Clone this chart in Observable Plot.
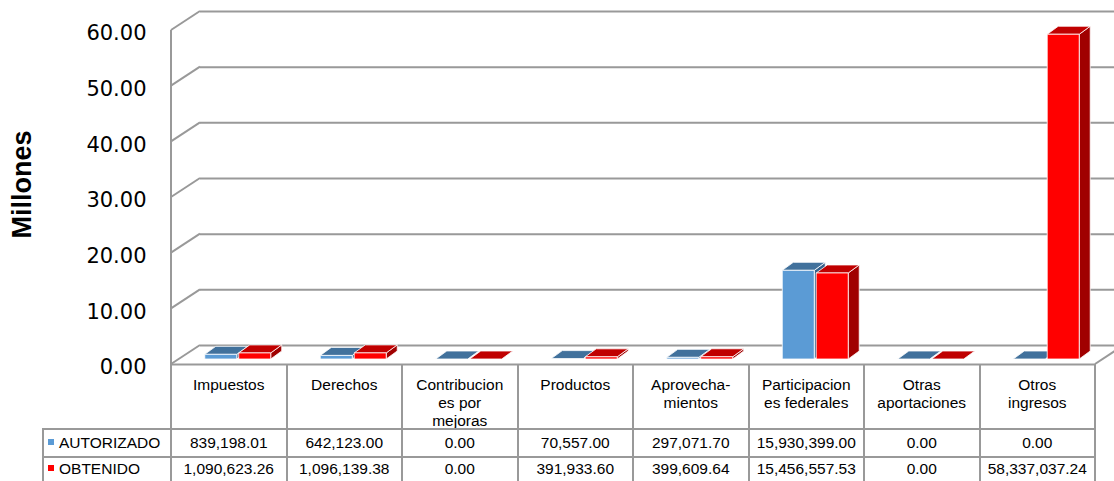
<!DOCTYPE html>
<html><head><meta charset="utf-8">
<script src="https://cdn.jsdelivr.net/npm/d3@7"></script>
<script src="https://cdn.jsdelivr.net/npm/@observablehq/plot@0.6"></script>
<style>
body{margin:0;background:#fff;}
#wrap{position:relative;width:1114px;height:481px;overflow:hidden;background:#fff;}
#wrap svg{position:absolute;left:0;top:0;}
.cell{position:absolute;font-family:"Liberation Sans",Arial,sans-serif;font-size:15.5px;color:#000;text-align:center;line-height:18px;white-space:nowrap;}
.ln{position:absolute;background:#999;}
</style></head><body><div id="wrap"></div>
<script>
// ---- data ----
const categories = ["Impuestos","Derechos","Contribuciones por mejoras","Productos","Aprovechamientos","Participaciones federales","Otras aportaciones","Otros ingresos"];
const headerLabels = [["Impuestos"],["Derechos"],["Contribucion","es por","mejoras"],["Productos"],["Aprovecha-","mientos"],["Participacion","es federales"],["Otras","aportaciones"],["Otros","ingresos"]];
const seriesNames = ["AUTORIZADO","OBTENIDO"];
const autorizado = [839198.01, 642123.00, 0.00, 70557.00, 297071.70, 15930399.00, 0.00, 0.00];
const obtenido = [1090623.26, 1096139.38, 0.00, 391933.60, 399609.64, 15456557.53, 0.00, 58337037.24];
const yTicks = [0, 10, 20, 30, 40, 50, 60];
const yTitle = "Millones";

// ---- styles ----
const LINE = "#999999";
const frontColors = ["#5B9BD5", "#FF0000"];
const topColors = {AUTORIZADO: "#41719C", OBTENIDO: "#C00000"};
const sideColors = {AUTORIZADO: "#35618C", OBTENIDO: "#A00000"};
const WALL = [29, -19];    // depth of the 3D box
const BAR_OFF = [9, -5];   // bars sit inside the box
const BAR_DEPTH = [11, -8];

const rows = categories.flatMap((c, i) => [
  {cat: c, series: seriesNames[0], value: autorizado[i] / 1e6},
  {cat: c, series: seriesNames[1], value: obtenido[i] / 1e6}
]);

function walls(index, scales, values, dims) {
  const x0 = dims.marginLeft, x1 = dims.width - dims.marginRight;
  const y = scales.y;
  const g = d3.create("svg:g").attr("stroke", LINE).attr("stroke-width", 2).attr("fill", "none");
  g.append("line").attr("x1", x0).attr("x2", x0).attr("y1", y(yTicks[yTicks.length - 1])).attr("y2", y(0));
  for (const t of yTicks) {
    g.append("line").attr("x1", x0).attr("y1", y(t)).attr("x2", x0 + WALL[0]).attr("y2", y(t) + WALL[1]);
  }
  g.append("line").attr("x1", x1).attr("y1", y(0)).attr("x2", x1 + WALL[0]).attr("y2", y(0) + WALL[1]);
  return g.node();
}

function bars3d(index, scales, values, dims) {
  const bw = typeof scales.x.bandwidth === "function" ? scales.x.bandwidth()
    : (dims.width - dims.marginLeft - dims.marginRight) / categories.length;
  const barW = bw * 0.277, gap = bw * 0.017;
  const g = d3.create("svg:g").attr("stroke", "#fff").attr("stroke-width", 0.8).attr("stroke-linejoin", "round");
  for (const i of index) {
    const d = rows[i];
    const s = seriesNames.indexOf(d.series);
    const cx = scales.x(d.cat) + bw / 2 + BAR_OFF[0];
    const xl = s === 0 ? cx - gap / 2 - barW : cx + gap / 2;
    const xr = xl + barW;
    const y0 = scales.y(0) + BAR_OFF[1];
    const yt = scales.y(d.value) + BAR_OFF[1];
    const [dx, dy] = BAR_DEPTH;
    g.append("path").attr("fill", sideColors[d.series])
      .attr("d", `M${xr},${yt}L${xr + dx},${yt + dy}L${xr + dx},${y0 + dy}L${xr},${y0}Z`);
    g.append("path").attr("fill", topColors[d.series])
      .attr("d", `M${xl},${yt}L${xl + dx},${yt + dy}L${xr + dx},${yt + dy}L${xr},${yt}Z`);
    if (y0 - yt > 0.5) {
      g.append("rect").attr("fill", values.fill ? values.fill[i] : frontColors[s])
        .attr("x", xl).attr("y", yt).attr("width", barW).attr("height", y0 - yt);
    }
  }
  return g.node();
}

const plot = Plot.plot({
  width: 1114,
  height: 481,
  marginLeft: 171,
  marginRight: 19,
  marginTop: 30,
  marginBottom: 117,
  style: {background: "transparent", fontFamily: "Liberation Sans, Arial, sans-serif", overflow: "hidden"},
  x: {type: "band", domain: categories, padding: 0, round: false, axis: null},
  y: {domain: [0, 60], axis: null},
  color: {domain: seriesNames, range: frontColors},
  marks: [
    Plot.ruleY(yTicks, {dx: WALL[0], dy: WALL[1], stroke: LINE, strokeWidth: 2}),
    Plot.ruleY(yTicks, {render: walls}),
    Plot.ruleY([0], {stroke: LINE, strokeWidth: 2}),
    Plot.barY(rows, {x: "cat", y: "value", fill: "series", render: bars3d}),
    Plot.axisY(yTicks, {tickSize: 0, tickPadding: 25, tickFormat: d3.format(".2f"), fontSize: 21,
      fontFamily: "DejaVu Sans", fill: "#000", dy: 3, label: null}),
    Plot.text([yTitle], {frameAnchor: "left", text: d => d, rotate: -90, dx: -149, dy: -13,
      textAnchor: "middle", lineAnchor: "middle", fontSize: 27, fontWeight: "bold",
      fontFamily: "Liberation Sans, Arial, sans-serif", fill: "#000"})
  ]
});

const wrap = document.getElementById("wrap");
wrap.appendChild(plot);

// ---- data table under the chart, aligned to the plot's x scale ----
const xs = plot.scale("x");
const bw = xs.bandwidth;
const tableTop = 364, headBottom = 429, row1Bottom = 457, tableBottom = 490, legendLeft = 43;
function line(x, y, w, h) {
  const el = document.createElement("div");
  el.className = "ln";
  Object.assign(el.style, {left: x + "px", top: y + "px", width: w + "px", height: h + "px"});
  wrap.appendChild(el);
}
function cell(x, y, w, html, align) {
  const el = document.createElement("div");
  el.className = "cell";
  Object.assign(el.style, {left: x + "px", top: y + "px", width: w + "px"});
  if (align) el.style.textAlign = align;
  el.innerHTML = html;
  wrap.appendChild(el);
  return el;
}
const fmt = d3.format(",.2f");
const left0 = xs.apply(categories[0]);
const right0 = xs.apply(categories[categories.length - 1]) + bw;
categories.forEach((c, i) => {
  const x = xs.apply(c);
  line(x - 1, tableTop, 2, tableBottom - tableTop);
  cell(x, tableTop + 12, bw, headerLabels[i].join("<br>"));
  cell(x, headBottom + 5, bw, fmt(autorizado[i]));
  cell(x, row1Bottom + 3, bw, fmt(obtenido[i]));
});
line(right0 - 1, tableTop, 2, tableBottom - tableTop);
line(legendLeft - 1, headBottom, 2, tableBottom - headBottom);
line(legendLeft - 1, headBottom - 1, right0 - legendLeft + 1, 2);
line(legendLeft - 1, row1Bottom - 1, right0 - legendLeft + 1, 2);
seriesNames.forEach((s, k) => {
  const y = k === 0 ? headBottom + 5 : row1Bottom + 3;
  cell(legendLeft + 5, y, left0 - legendLeft - 6,
    `<span style="display:inline-block;width:6px;height:6px;background:${frontColors[k]};vertical-align:middle;margin-right:5px;position:relative;top:-2px"></span>${s}`, "left");
});
</script>
</body></html>
